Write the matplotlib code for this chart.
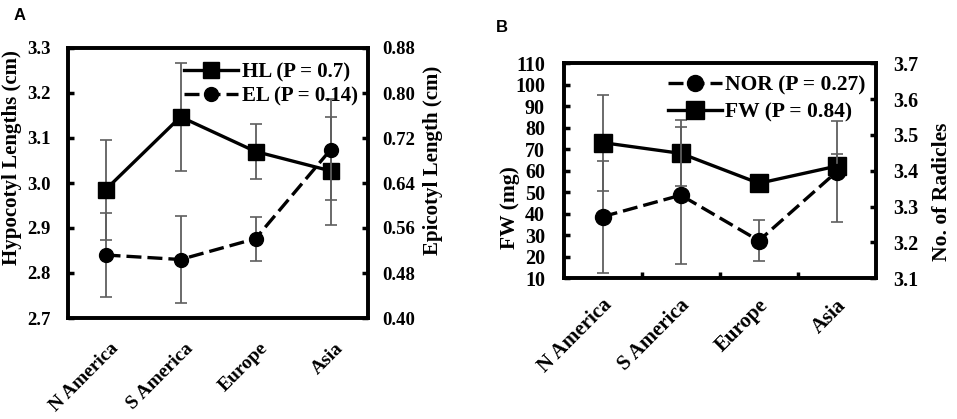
import matplotlib
matplotlib.use('Agg')
import matplotlib.pyplot as plt
from matplotlib.lines import Line2D
from matplotlib.ticker import MultipleLocator, FixedLocator, NullFormatter
import matplotlib.transforms as mtrans

# data
regions = ['N America', 'S America', 'Europe', 'Asia']
hl = [2.985, 3.147, 3.070, 3.027]
hl_err = [0.111, 0.120, 0.062, 0.120]
el = [0.512, 0.504, 0.541, 0.699]
el_err = [0.074, 0.077, 0.039, 0.090]
fw = [73.1, 68.1, 54.2, 62.2]
fw_err = [22.3, 15.3, 2.0, 5.4]
nor = [3.272, 3.332, 3.205, 3.398]
nor_err = [0.156, 0.191, 0.057, 0.142]

serif = 'Liberation Serif'
plt.rcParams['font.family'] = serif
plt.rcParams['font.weight'] = 'bold'

fig = plt.figure(figsize=(9.57, 4.19), dpi=100)
x = list(range(len(regions)))
ecol = '#5f5f5f'


def style_axis(ax, tick_fs, pad):
    for s in ax.spines.values():
        s.set_linewidth(2.6)
    ax.tick_params(axis='y', direction='in', length=4, width=2.5, labelsize=tick_fs, pad=pad)
    ax.set_xlim(-0.5, 3.5)


def xlabels(ax, dx, dy, fs):
    ax.set_xticks(x)
    ax.set_xticklabels(regions, rotation=45, ha='right', va='center', rotation_mode='anchor',
                       fontsize=fs, fontweight='bold')
    ax.tick_params(axis='x', length=0, pad=0)
    off = mtrans.ScaledTranslation(dx / 100, -dy / 100, fig.dpi_scale_trans)
    for lbl in ax.get_xticklabels():
        lbl.set_transform(lbl.get_transform() + off)


# ---------- panel A ----------
axA = fig.add_axes([68 / 957, 1 - 318 / 419, 300 / 957, 270 / 419])
axA2 = axA.twinx()
axA.errorbar(x, hl, yerr=hl_err, fmt='none', ecolor=ecol, elinewidth=1.3, capsize=4.5, capthick=1.2, zorder=1)
axA.plot(x, hl, '-s', color='black', lw=2.4, ms=12, zorder=3)
axA2.errorbar(x, el, yerr=el_err, fmt='none', ecolor=ecol, elinewidth=1.3, capsize=4.5, capthick=1.2, zorder=1)
axA2.plot(x, el, '--o', color='black', lw=2.4, ms=10, dashes=(4.5, 1.8), zorder=3)
axA.set_ylim(2.7, 3.3)
axA.yaxis.set_major_locator(MultipleLocator(0.1))
axA.yaxis.set_major_formatter(plt.FuncFormatter(lambda v, p: '%.1f' % v))
axA2.set_ylim(0.40, 0.88)
axA2.yaxis.set_major_locator(MultipleLocator(0.08))
axA2.yaxis.set_major_formatter(plt.FuncFormatter(lambda v, p: '%.2f' % v))
style_axis(axA, 13.5, 12.5)
style_axis(axA2, 13.5, 10.5)
xlabels(axA, 10, 28, 14)
axA2.tick_params(axis='x', length=0)
axA.set_ylabel('Hypocotyl Lengths (cm)', fontsize=15, fontweight='bold', va='center')
axA.yaxis.set_label_coords(-0.187, 0.596)
axA2.set_ylabel('Epicotyl Length (cm)', fontsize=15, fontweight='bold', va='center')
axA2.yaxis.set_label_coords(1.217, 0.585)
hA = [Line2D([], [], color='black', lw=2.4, marker='s', ms=12),
      Line2D([], [], color='black', lw=2.4, ls='--', dashes=(4.5, 1.8), marker='o', ms=10)]
axA2.legend(hA, ['HL (P = 0.7)', 'EL (P = 0.14)'], loc='upper right', frameon=False,
            prop={'family': serif, 'weight': 'bold', 'size': 15}, handlelength=2.6,
            handletextpad=0.15, labelspacing=0.2, borderaxespad=0.1,
            bbox_to_anchor=(1.0, 0.985))
fig.text(14 / 957, 1 - 16 / 419, 'A', family='Liberation Sans', weight='bold', fontsize=12,
         va='center', ha='left')

# ---------- panel B ----------
axB = fig.add_axes([563.7 / 957, 1 - 278.3 / 419, 312.3 / 957, 215 / 419])
axB2 = axB.twinx()
axB.errorbar(x, fw, yerr=fw_err, fmt='none', ecolor=ecol, elinewidth=1.3, capsize=4.5, capthick=1.2, zorder=1)
axB.plot(x, fw, '-s', color='black', lw=2.4, ms=13, zorder=3)
axB2.errorbar(x, nor, yerr=nor_err, fmt='none', ecolor=ecol, elinewidth=1.3, capsize=4.5, capthick=1.2, zorder=1)
axB2.plot(x, nor, '--o', color='black', lw=2.4, ms=11.5, dashes=(4.5, 1.8), zorder=3)
axB.set_ylim(10, 110)
axB.yaxis.set_major_locator(MultipleLocator(10))
axB2.set_ylim(3.1, 3.7)
axB2.yaxis.set_major_locator(MultipleLocator(0.1))
axB2.yaxis.set_major_formatter(plt.FuncFormatter(lambda v, p: '%.1f' % v))
style_axis(axB, 14.5, 13.5)
style_axis(axB2, 14.5, 12.7)
xlabels(axB, 6, 24, 15)
axB.xaxis.set_minor_locator(FixedLocator([0.5, 1.5, 2.5]))
axB.xaxis.set_minor_formatter(NullFormatter())
axB.tick_params(axis='x', which='minor', direction='in', length=4, width=2.5)
axB.set_ylabel('FW (mg)', fontsize=15.5, fontweight='bold', va='center')
axB.yaxis.set_label_coords(-0.172, 0.327)
axB2.set_ylabel('No. of Radicles', fontsize=15.5, fontweight='bold', va='center')
axB2.yaxis.set_label_coords(1.211, 0.40)
hB = [Line2D([], [], color='black', lw=2.4, ls='--', dashes=(4.5, 1.8), marker='o', ms=11.5),
      Line2D([], [], color='black', lw=2.4, marker='s', ms=13)]
axB2.legend(hB, ['NOR (P = 0.27)', 'FW (P = 0.84)'], loc='upper right', frameon=False,
            prop={'family': serif, 'weight': 'bold', 'size': 15.5}, handlelength=2.5,
            handletextpad=0.15, labelspacing=0.35, borderaxespad=0.1,
            bbox_to_anchor=(1.0, 0.995))
fig.text(502 / 957, 1 - 27 / 419, 'B', family='Liberation Sans', weight='bold', fontsize=12,
         va='center', ha='center')

fig.savefig('out.png', dpi=100)
